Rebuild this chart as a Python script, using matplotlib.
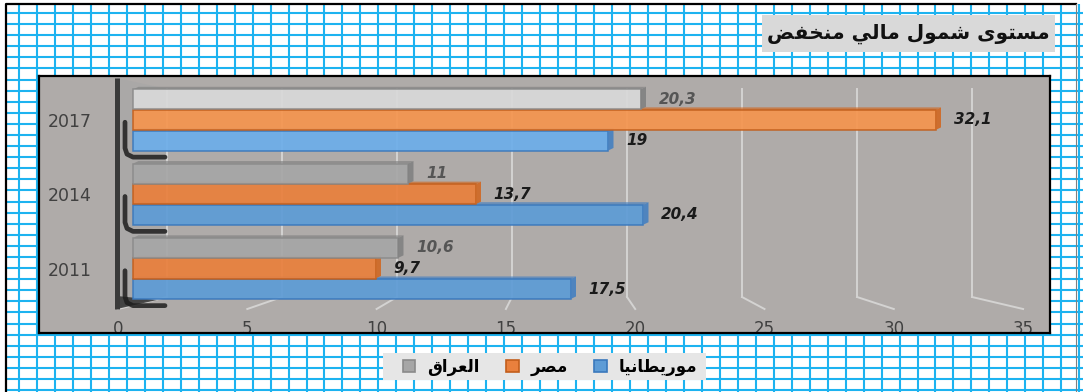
import numpy as np
import matplotlib.pyplot as plt
from matplotlib.patches import Polygon, Rectangle, Patch

# data
years = ['2011', '2014', '2017']
iraq = [10.6, 11, 20.3]
egypt = [9.7, 13.7, 32.1]
mauritania = [17.5, 20.4, 19]
ticks = [0, 5, 10, 15, 20, 25, 30, 35]
title = 'مستوى شمول مالي منخفض'
names = ['العراق', 'مصر', 'موريطانيا']

# Arabic presentation forms: isolated, final, initial, medial
FORMS = {
    'ا': (0xFE8D, 0xFE8E, None, None),
    'ت': (0xFE95, 0xFE96, 0xFE97, 0xFE98),
    'خ': (0xFEA5, 0xFEA6, 0xFEA7, 0xFEA8),
    'ر': (0xFEAD, 0xFEAE, None, None),
    'س': (0xFEB1, 0xFEB2, 0xFEB3, 0xFEB4),
    'ش': (0xFEB5, 0xFEB6, 0xFEB7, 0xFEB8),
    'ص': (0xFEB9, 0xFEBA, 0xFEBB, 0xFEBC),
    'ض': (0xFEBD, 0xFEBE, 0xFEBF, 0xFEC0),
    'ط': (0xFEC1, 0xFEC2, 0xFEC3, 0xFEC4),
    'ع': (0xFEC9, 0xFECA, 0xFECB, 0xFECC),
    'ف': (0xFED1, 0xFED2, 0xFED3, 0xFED4),
    'ق': (0xFED5, 0xFED6, 0xFED7, 0xFED8),
    'ل': (0xFEDD, 0xFEDE, 0xFEDF, 0xFEE0),
    'م': (0xFEE1, 0xFEE2, 0xFEE3, 0xFEE4),
    'ن': (0xFEE5, 0xFEE6, 0xFEE7, 0xFEE8),
    'و': (0xFEED, 0xFEEE, None, None),
    'ى': (0xFEEF, 0xFEF0, None, None),
    'ي': (0xFEF1, 0xFEF2, 0xFEF3, 0xFEF4),
}


def shape(text):
    # join letters and put them in visual (left-to-right) order
    words = []
    for w in text.split(' '):
        out = ''
        for i, c in enumerate(w):
            f = FORMS[c]
            prev = i > 0 and FORMS[w[i - 1]][2] is not None
            nxt = i < len(w) - 1 and f[2] is not None
            if prev and nxt:
                g = f[3]
            elif prev:
                g = f[1]
            elif nxt:
                g = f[2]
            else:
                g = f[0]
            out += chr(g)
        words.append(out)
    return ' '.join(words)[::-1]


def fmt(v):
    return f'{v:g}'.replace('.', ',')


W, H = 1083, 392
fig = plt.figure(figsize=(W / 100, H / 100), dpi=100)

# graph paper background
bg = fig.add_axes([0, 0, 1, 1])
bg.set_xlim(0, W)
bg.set_ylim(H, 0)
bg.axis('off')
bg.vlines(np.arange(19, W, 17.97), 4, H, color='#1DB3F0', lw=1.5, zorder=1)
bg.hlines(13 + 11.09 * np.arange(35), 6, W, color='#1DB3F0', lw=1.5, zorder=1)
bg.plot([6, 6, 1076], [H, 4, 4], color='black', lw=1.6, zorder=2)
bg.plot([1076, 1076], [4, H], color='#808080', lw=0.8, zorder=2)

# title box
bg.add_patch(Rectangle((762, 15), 293, 37, fc='#D9D9D9', ec='none', zorder=3))
bg.text(908, 34, shape(title), ha='center', va='center', fontsize=14.5,
        fontweight='bold', family='DejaVu Sans', color='#111111', zorder=4)

# legend box
bg.add_patch(Rectangle((383, 353), 323, 27, fc='#E6E6E6', ec='none', zorder=3))

# plot area
L, R, T, B = 39, 1050, 76, 333
ax = fig.add_axes([L / W, 1 - B / H, (R - L) / W, (B - T) / H])
ax.set_facecolor('#AFABA9')
for s in ax.spines.values():
    s.set_color('black')
    s.set_linewidth(1.6)

x0, sx = 133, 25.0        # bar front face: origin and px per unit
yc0, sy = 268.5, 74.25    # category centres
ax.set_xlim((L - x0) / sx, (R - x0) / sx)
ax.set_ylim((yc0 - B) / sy, (yc0 - T) / sy)


def px_x(p):
    return (p - x0) / sx


def px_y(p):
    return (yc0 - p) / sy


# perspective helpers for the walls
back_x = lambda v: px_x(167 + 23.0 * v)
front_x = lambda v: px_x(118 + 25.86 * v)
y_back_top, y_back_bot, y_front = px_y(89), px_y(297), px_y(309)
wall_x, wall_top = px_x(117), px_y(78)

# side wall
ax.add_patch(Polygon([(wall_x, wall_top), (back_x(0), y_back_top),
                      (back_x(0), y_back_bot), (wall_x, y_front)],
                     closed=True, fc='#AAA8A7', ec='none', zorder=1))

# back wall gridlines and floor lines
for v in ticks:
    ax.plot([back_x(v), back_x(v)], [y_back_top, y_back_bot],
            color='#D4D3D2', lw=1.4, zorder=2)
    ax.plot([back_x(v), front_x(v)], [y_back_bot, y_front],
            color='#D4D3D2', lw=1.4, zorder=2)

# floor shadow and left wall edge
ax.add_patch(Polygon([(wall_x, px_y(296)), (wall_x, y_front), (px_x(157), px_y(300))],
                     closed=True, fc='#2A2A2A', ec='none', alpha=0.8, zorder=3))
ax.plot([wall_x, wall_x], [wall_top, y_front], color='#3A3A3A', lw=3.6,
        solid_capstyle='butt', zorder=3)

ypos = np.arange(len(years))
h = 0.27
gap = 0.277

# bar shadows on the side wall
for y in ypos:
    xs = [px_x(125), px_x(125), px_x(127), px_x(133), px_x(165)]
    ys = [y - 0.03, y - 0.38, y - 0.46, y - 0.5, y - 0.5]
    ax.plot(xs, ys, color='#1E1E1E', lw=3.4, alpha=0.85,
            solid_capstyle='round', solid_joinstyle='round', zorder=3)

series = [
    # values, offset, colours (normal, highlighted), edge, side, label colour
    (mauritania, -gap, ['#5E9CD6', '#6DAEE9'], '#3A78BC', '#4A82C0', '#1A1A1A'),
    (egypt, 0.0, ['#E9803D', '#F5954F'], '#C25E1C', '#CF6B28', '#1A1A1A'),
    (iraq, gap, ['#A6A6A6', '#D9D9D9'], '#8A8A8A', '#838383', '#555555'),
]

dx, dy = 0.22, 0.035
handles = []
for vals, off, cols, ec, side, lc in series:
    colors = [cols[0]] * (len(vals) - 1) + [cols[1]]
    bars = ax.barh(ypos + off, vals, height=h, color=colors, edgecolor=ec,
                   lw=1.1, alpha=0.93, zorder=5)
    for rect, c in zip(bars, colors):
        x, y, w, hh = rect.get_x(), rect.get_y(), rect.get_width(), rect.get_height()
        # top face
        ax.add_patch(Polygon([(x, y + hh), (x + w, y + hh), (x + w + dx, y + hh + dy),
                              (x + dx, y + hh + dy)], closed=True, fc=side,
                             ec='none', alpha=0.7, zorder=4))
        # side face
        ax.add_patch(Polygon([(x + w, y), (x + w + dx, y + dy), (x + w + dx, y + hh + dy),
                              (x + w, y + hh)], closed=True, fc=side,
                             ec='none', alpha=0.95, zorder=5))
    for y, v in zip(ypos + off, vals):
        ax.annotate(fmt(v), xy=(v, y), xytext=(13, 0), textcoords='offset points',
                    ha='left', va='center', fontsize=11, fontweight='bold',
                    fontstyle='italic', color=lc, zorder=6)
    handles.append(Patch(fc=cols[0], ec=ec, lw=1.2))

# axis labels inside the plot area
ax.set_xticks([front_x(v) for v in ticks], labels=[str(v) for v in ticks])
ax.set_yticks(ypos, labels=years)
ax.tick_params(axis='x', length=0, pad=-9.5, labelsize=12, labelcolor='#404040')
ax.tick_params(axis='y', length=0, pad=-38, labelsize=12.5, labelcolor='#404040')

# legend, left to right: Iraq, Egypt, Mauritania
fig.legend(handles[::-1], [shape(n) for n in names], ncol=3, loc='center',
           bbox_to_anchor=(550 / W, 1 - 366.5 / H), frameon=False,
           prop=dict(family='DejaVu Sans', weight='bold', size=12),
           handlelength=0.75, handleheight=0.75, handletextpad=0.7, columnspacing=1.6)

plt.savefig('out.png', dpi=100)
plt.close(fig)
